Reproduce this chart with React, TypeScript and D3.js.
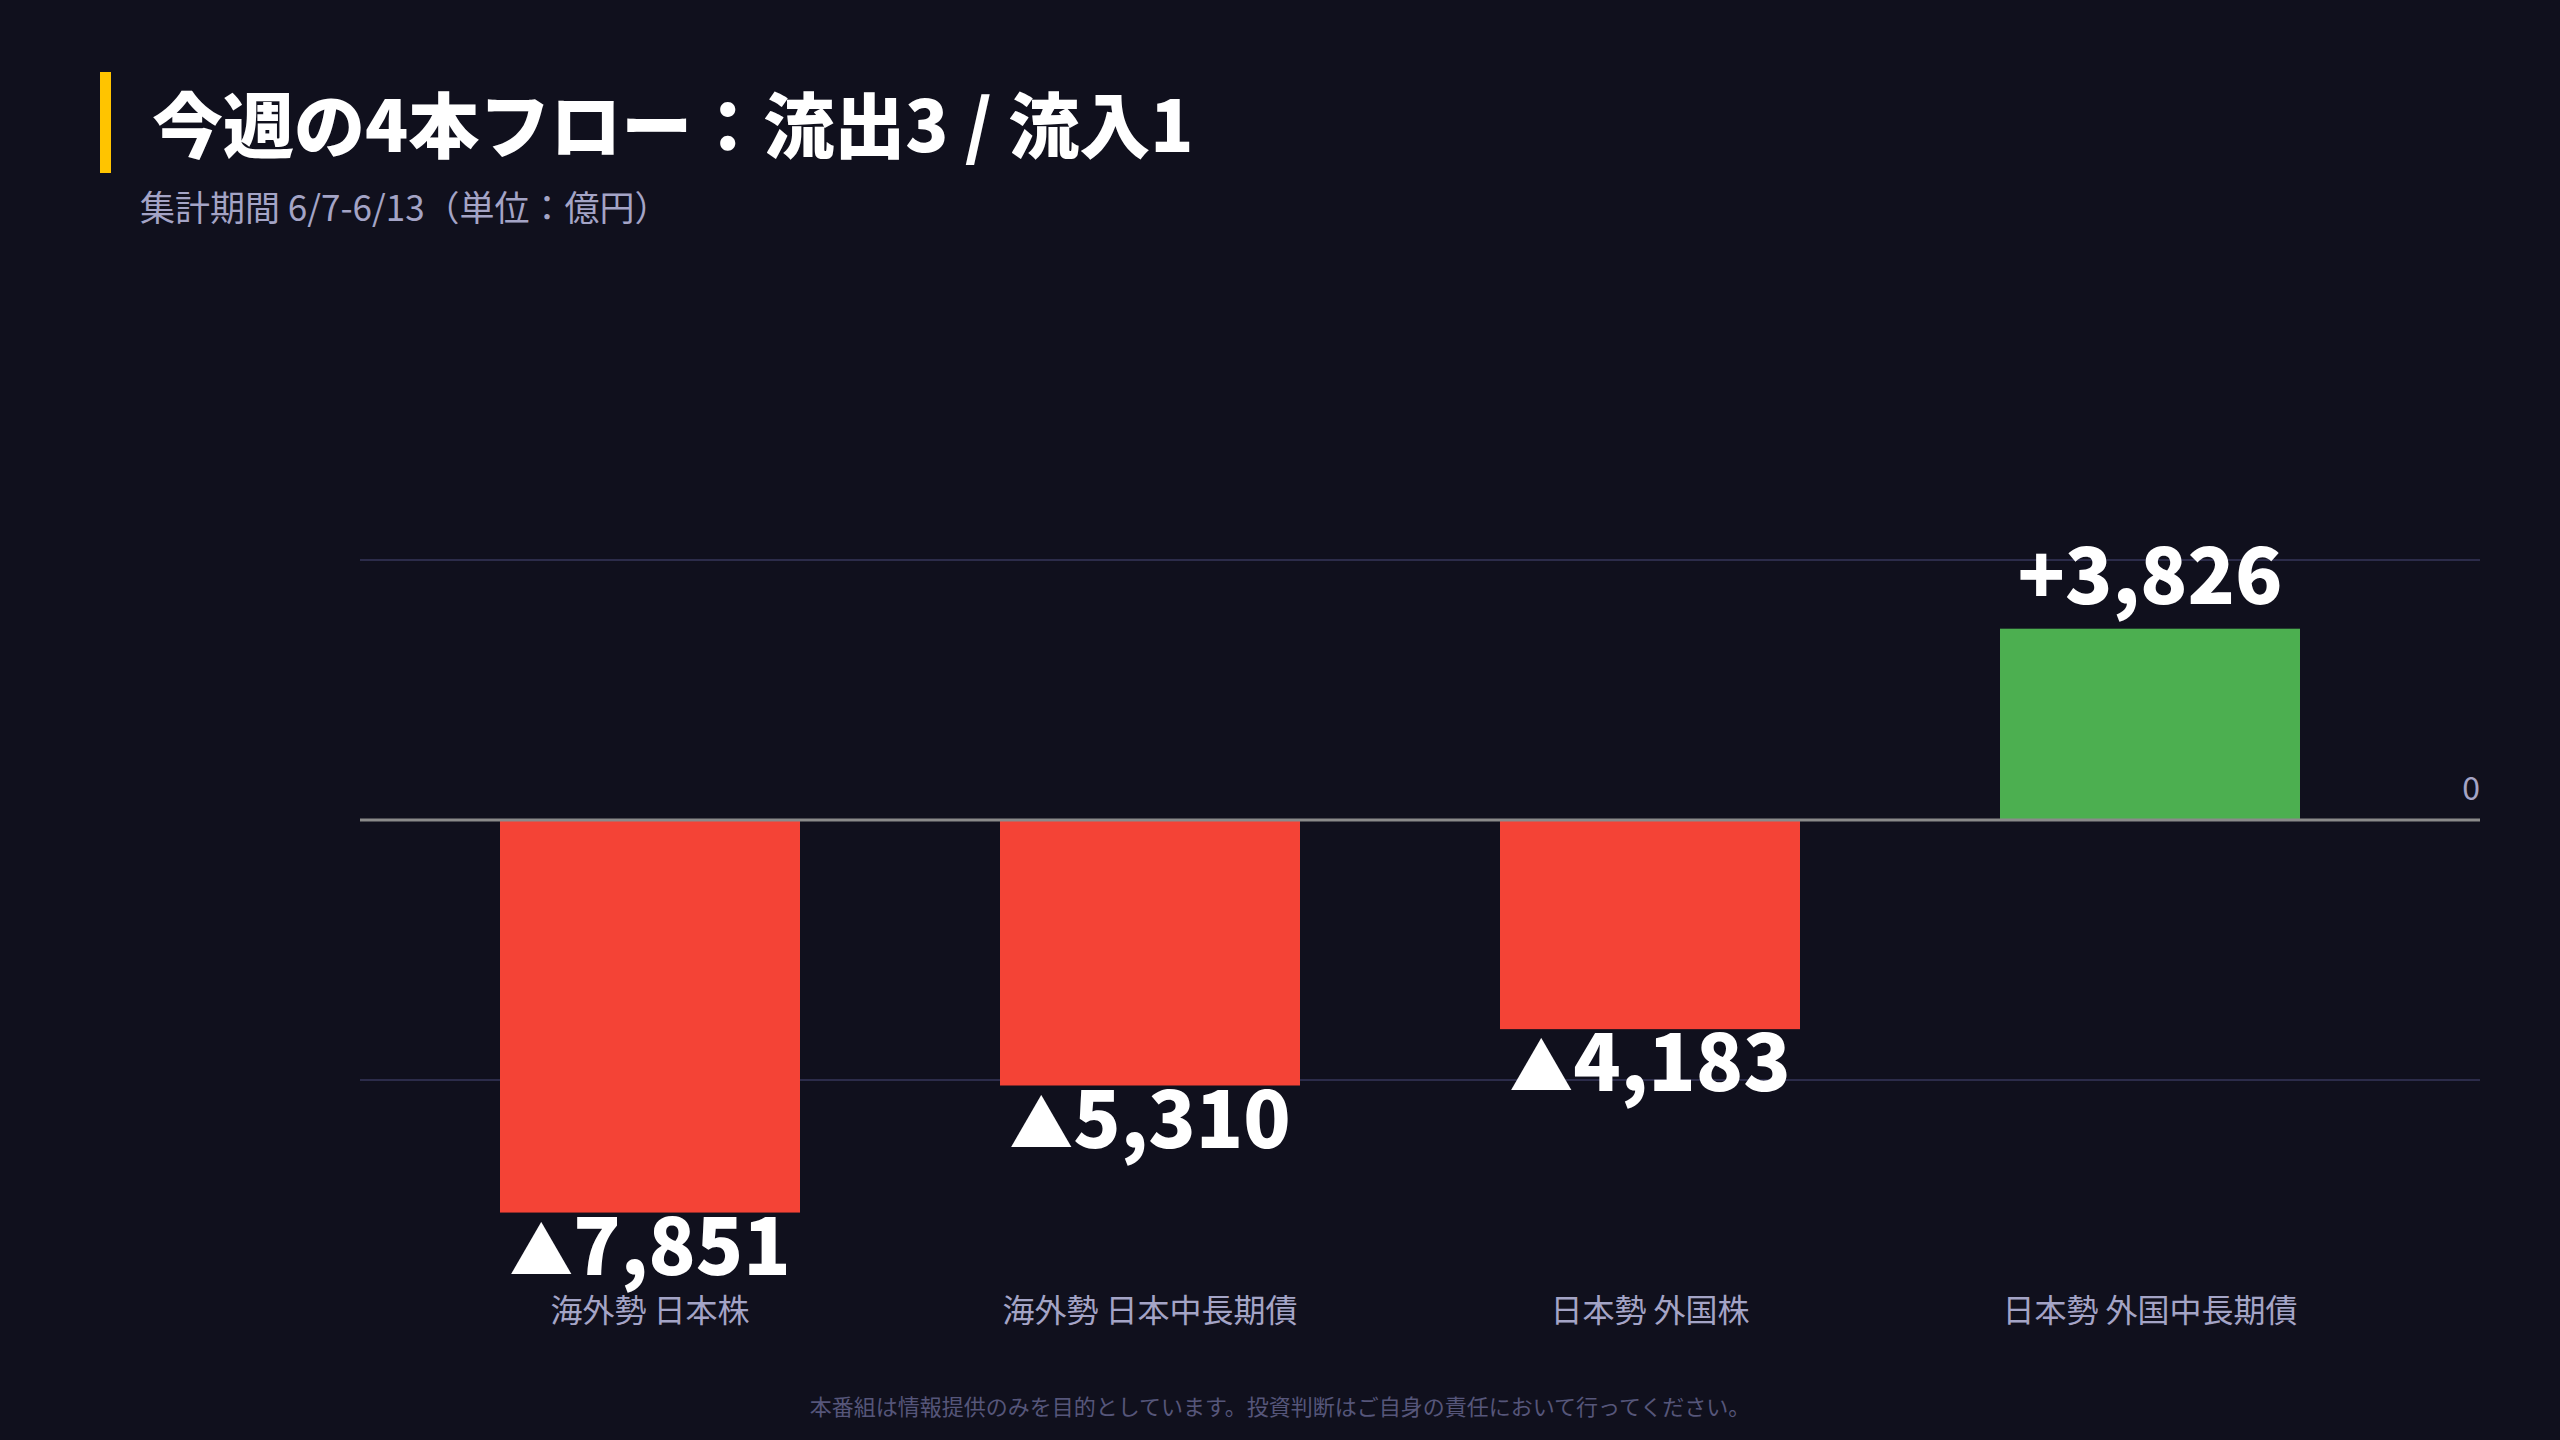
import { useEffect, useRef } from 'react';
import * as d3 from 'd3';

const TITLE = '今週の4本フロー：流出3 / 流入1';
const SUBTITLE = '集計期間 6/7-6/13（単位：億円）';
const FOOTNOTE = '本番組は情報提供のみを目的としています。投資判断はご自身の責任において行ってください。';

const CATEGORIES = ['海外勢 日本株', '海外勢 日本中長期債', '日本勢 外国株', '日本勢 外国中長期債'];
const FLOWS = [-7851, -5310, -4183, 3826];
const Y_DOMAIN = [-10400, 10400];
const GRID_TICKS = [-5200, 5200];
const ZERO_TICK = [0];

const W = 2560;
const H = 1440;
const BG = '#10101d';
const RED = '#f44336';
const GREEN = '#4caf50';
const MUTED = '#a4a4c6';
const FONT = '"Noto Sans CJK JP", "Noto Sans", sans-serif';

export default function App() {
  const svgRef = useRef<SVGSVGElement>(null);

  useEffect(() => {
    document.body.style.margin = '0';
    document.body.style.background = BG;
    if (!svgRef.current) return;

    const svg = d3.select(svgRef.current);
    svg.selectAll('*').remove();

    const plotLeft = 360;
    const plotRight = 2480;

    const x = d3.scaleBand<string>()
      .domain(CATEGORIES)
      .range([400, 2400])
      .paddingInner(0.4)
      .paddingOuter(0.2);

    const y = d3.scaleLinear()
      .domain(Y_DOMAIN)
      .range([1340, 300]);

    const fmt = d3.format(',');

    svg.append('rect')
      .attr('width', W)
      .attr('height', H)
      .attr('fill', BG);

    // header
    svg.append('rect')
      .attr('x', 100)
      .attr('y', 72)
      .attr('width', 11)
      .attr('height', 101)
      .attr('fill', '#ffc400');

    svg.append('text')
      .attr('x', 152)
      .attr('y', 152)
      .attr('font-family', FONT)
      .attr('font-weight', 900)
      .attr('font-size', 71)
      .attr('fill', '#ffffff')
      .text(TITLE);

    svg.append('text')
      .attr('x', 140)
      .attr('y', 221)
      .attr('font-family', FONT)
      .attr('font-size', 35)
      .attr('fill', MUTED)
      .text(SUBTITLE);

    // grid
    svg.append('g')
      .selectAll('line')
      .data(GRID_TICKS)
      .join('line')
      .attr('x1', plotLeft)
      .attr('x2', plotRight)
      .attr('y1', (d) => y(d))
      .attr('y2', (d) => y(d))
      .attr('stroke', '#2c2c4a')
      .attr('stroke-width', 2);

    // bars
    svg.append('g')
      .selectAll('rect')
      .data(FLOWS)
      .join('rect')
      .attr('x', (_d, i) => x(CATEGORIES[i]) ?? 0)
      .attr('y', (d) => y(Math.max(0, d)))
      .attr('width', x.bandwidth())
      .attr('height', (d) => Math.abs(y(d) - y(0)))
      .attr('fill', (d) => (d < 0 ? RED : GREEN));

    // zero line
    svg.append('g')
      .selectAll('line')
      .data(ZERO_TICK)
      .join('line')
      .attr('x1', plotLeft)
      .attr('x2', plotRight)
      .attr('y1', (d) => y(d))
      .attr('y2', (d) => y(d))
      .attr('stroke', '#8a8a8a')
      .attr('stroke-width', 3);

    svg.append('g')
      .selectAll('text')
      .data(ZERO_TICK)
      .join('text')
      .attr('x', plotRight)
      .attr('y', (d) => y(d) - 20)
      .attr('text-anchor', 'end')
      .attr('font-family', FONT)
      .attr('font-size', 32)
      .attr('fill', MUTED)
      .text((d) => String(d));

    // value labels (▲ = outflow, + = inflow)
    svg.append('g')
      .selectAll('text')
      .data(FLOWS)
      .join('text')
      .attr('x', (_d, i) => (x(CATEGORIES[i]) ?? 0) + x.bandwidth() / 2)
      .attr('y', (d) => (d < 0 ? y(d) + 62 : y(d) - 25))
      .attr('text-anchor', 'middle')
      .attr('font-family', FONT)
      .attr('font-weight', 900)
      .attr('font-size', 78)
      .attr('fill', '#ffffff')
      .each(function (d) {
        const t = d3.select(this);
        t.append('tspan')
          .attr('font-size', d < 0 ? 64 : 78)
          .text(d < 0 ? '▲' : '+');
        t.append('tspan').text(fmt(Math.abs(d)));
      });

    // category labels
    svg.append('g')
      .selectAll('text')
      .data(CATEGORIES)
      .join('text')
      .attr('x', (d) => (x(d) ?? 0) + x.bandwidth() / 2)
      .attr('y', 1322)
      .attr('text-anchor', 'middle')
      .attr('font-family', FONT)
      .attr('font-size', 32)
      .attr('fill', MUTED)
      .text((d) => d);

    svg.append('text')
      .attr('x', W / 2)
      .attr('y', 1415)
      .attr('text-anchor', 'middle')
      .attr('font-family', FONT)
      .attr('font-size', 22)
      .attr('fill', '#56567a')
      .text(FOOTNOTE);
  }, []);

  return <svg ref={svgRef} width={W} height={H} style={{ display: 'block' }} />;
}
